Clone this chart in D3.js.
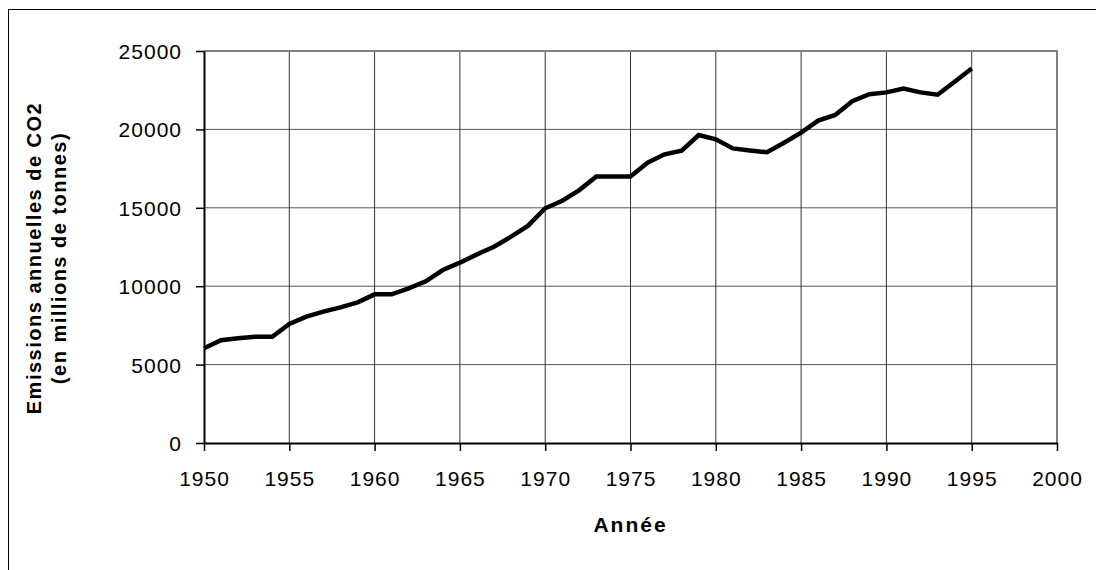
<!DOCTYPE html>
<html>
<head>
<meta charset="utf-8">
<script src="https://cdn.jsdelivr.net/npm/d3@7"></script>
<style>
  body { margin: 0; background: #fff; }
  svg { display: block; }
</style>
</head>
<body>
<div id="chart"></div>
<script>
// ── data ────────────────────────────────────────
const years = [
  1950, 1951, 1952, 1953, 1954, 1955, 1956, 1957, 1958, 1959,
  1960, 1961, 1962, 1963, 1964, 1965, 1966, 1967, 1968, 1969,
  1970, 1971, 1972, 1973, 1974, 1975, 1976, 1977, 1978, 1979,
  1980, 1981, 1982, 1983, 1984, 1985, 1986, 1987, 1988, 1989,
  1990, 1991, 1992, 1993, 1994, 1995
];
const emissions = [
  6040, 6550, 6680, 6780, 6780, 7590, 8060, 8380, 8650, 8970,
  9480, 9480, 9860, 10310, 11030, 11500, 12030, 12520, 13160, 13860,
  14970, 15450, 16130, 16990, 16990, 16990, 17880, 18410, 18640, 19640,
  19370, 18790, 18660, 18540, 19150, 19790, 20560, 20920, 21800, 22240,
  22360, 22600, 22360, 22210, 23040, 23890
];
const xTicks = [1950, 1955, 1960, 1965, 1970, 1975, 1980, 1985, 1990, 1995, 2000];
const yTicks = [0, 5000, 10000, 15000, 20000, 25000];

// ── layout ──────────────────────────────────────
const W = 1096, H = 570;
const plot = { left: 204, top: 51, right: 1057, bottom: 443 };
const FONT = "'Liberation Sans', Arial, sans-serif";

const svg = d3.select('#chart').append('svg')
  .attr('width', W).attr('height', H);

// outer frame
svg.append('rect')
  .attr('x', 8.5).attr('y', 9.5)
  .attr('width', W).attr('height', H)
  .attr('fill', 'none').attr('stroke', '#000').attr('stroke-width', 1);

const x = d3.scaleLinear().domain([1950, 2000]).range([plot.left, plot.right]);
const y = d3.scaleLinear().domain([0, 25000]).range([plot.bottom, plot.top]);

// grid
const grid = svg.append('g');
grid.selectAll('line.h')
  .data(yTicks.slice(1))
  .join('line').attr('class', 'h')
  .attr('x1', plot.left).attr('x2', plot.right)
  .attr('y1', d => y(d)).attr('y2', d => y(d))
  .attr('stroke', '#555').attr('stroke-width', 1);
grid.selectAll('line.v')
  .data(xTicks.slice(1))
  .join('line').attr('class', 'v')
  .attr('x1', d => x(d)).attr('x2', d => x(d))
  .attr('y1', plot.top).attr('y2', plot.bottom)
  .attr('stroke', '#333').attr('stroke-width', 1);

// plot border top/right in gray
svg.append('path')
  .attr('d', `M${plot.left},${plot.top}H${plot.right}V${plot.bottom}`)
  .attr('fill', 'none').attr('stroke', '#808080').attr('stroke-width', 2);

// axes
const xAxis = svg.append('g')
  .attr('transform', `translate(0,${plot.bottom})`)
  .call(d3.axisBottom(x).tickValues(xTicks).tickFormat(d3.format('d'))
    .tickSizeInner(8).tickSizeOuter(0).tickPadding(20));
const yAxis = svg.append('g')
  .attr('transform', `translate(${plot.left},0)`)
  .call(d3.axisLeft(y).tickValues(yTicks).tickFormat(d3.format('d'))
    .tickSizeInner(8).tickSizeOuter(0).tickPadding(14));

[xAxis, yAxis].forEach(a => {
  a.select('.domain').attr('stroke', '#000').attr('stroke-width', 2);
  a.selectAll('.tick line').attr('stroke', '#000').attr('stroke-width', 1.5);
  a.selectAll('.tick text')
    .attr('fill', '#000')
    .style('font-family', FONT)
    .style('font-size', '21px')
    .style('letter-spacing', '1px');
});
yAxis.selectAll('.tick text').attr('dy', '0.36em');

// line
svg.append('path')
  .datum(years.map((yr, i) => [yr, emissions[i]]))
  .attr('fill', 'none')
  .attr('stroke', '#000')
  .attr('stroke-width', 4.5)
  .attr('stroke-linejoin', 'miter')
  .attr('d', d3.line().x(d => x(d[0])).y(d => y(d[1])));

// axis titles
svg.append('text')
  .attr('x', (plot.left + plot.right) / 2).attr('y', 532)
  .attr('text-anchor', 'middle')
  .style('font-family', FONT).style('font-weight', 'bold')
  .style('font-size', '21px').style('letter-spacing', '2px')
  .text('Année');

const yTitle = svg.append('text')
  .attr('transform', 'translate(0,258) rotate(-90)')
  .attr('text-anchor', 'middle')
  .style('font-family', FONT).style('font-weight', 'bold')
  .style('font-size', '20px').style('letter-spacing', '1.5px');
yTitle.append('tspan').attr('x', 0).attr('y', 41).text('Emissions annuelles de CO2');
yTitle.append('tspan').attr('x', 0).attr('y', 66).text('(en millions de tonnes)');
</script>
</body>
</html>
